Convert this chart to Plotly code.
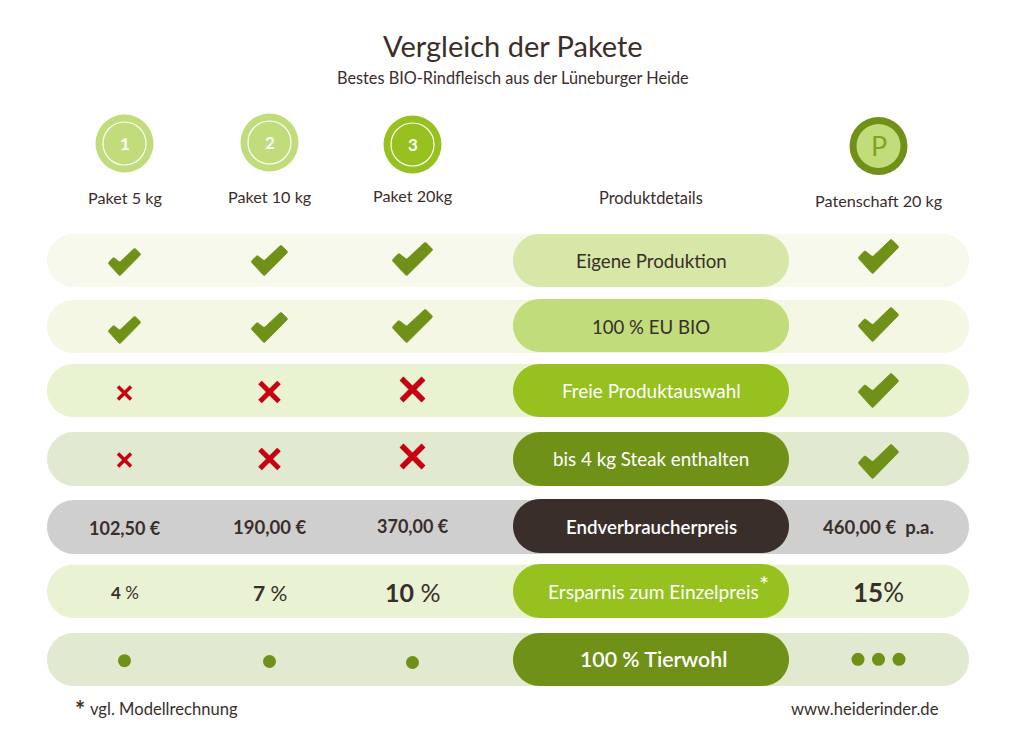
import math
import plotly.graph_objects as go

# --- data ---
packages = ["Paket 5 kg", "Paket 10 kg", "Paket 20kg", "Patenschaft 20 kg"]
badges = ["1", "2", "3", "P"]
row_labels = ["Eigene Produktion", "100 % EU BIO", "Freie Produktauswahl", "bis 4 kg Steak enthalten",
              "Endverbraucherpreis", "Ersparnis zum Einzelpreis", "100 % Tierwohl"]
eigene_produktion = [True, True, True, True]
eu_bio = [True, True, True, True]
freie_auswahl = [False, False, False, True]
steak = [False, False, False, True]
preise = ["102,50 €", "190,00 €", "370,00 €", "460,00 €  p.a."]
ersparnis = ["4", "7", "10", "15"]
tierwohl = [1, 1, 1, 3]

# --- layout of the sheet (pixels) ---
DARK = "#3a2e2b"
GREEN = "#6f9117"
RED = "#c8000f"
FONT = "Lato"
col_x = [124.5, 269.5, 412.5, 878.5]
badge_y = [143.5, 142.5, 144.5, 146]
label_y = [197.5, 196.5, 195.5, 200]
row_top = [234, 300, 364, 432, 500, 564.5, 633]
row_bot = [287, 353, 417, 486, 554, 618, 686]
pill_top = [234, 299, 364, 432, 499, 564, 633]
pill_bot = [287, 352, 417, 486, 553, 618, 686]
row_col = ["#f6f9ec", "#f3f7e3", "#e9f3d2", "#e1e9d1", "#d0cfcf", "#e9f3d3", "#e1e9d1"]
pill_col = ["#d6e7a7", "#c1dc7b", "#96c11f", GREEN, DARK, "#96c11f", GREEN]
pill_txt = [DARK, DARK, "white", "white", "white", "white", "white"]
pill_size = [18.7, 18.6, 18.9, 18.8, 18.7, 19.1, 21.3]
pill_weight = [400, 400, 400, 400, 600, 400, 600]
pill_label_x = [651.5, 651, 651.5, 650.5, 651, 653.5, 653.5]
pill_label_y = [261, 327, 390.5, 458.5, 527, 591.5, 659]
check_w = [33, 37, 41, 41]
check_h = [28, 31, 34, 35]
# check mark top per row / column
check_top = [[248, 245, 242, 239], [316, 312, 309, 307], [0, 0, 0, 373], [0, 0, 0, 444]]
cross_size = [13, 19, 22]
cross_line = [3.5, 5, 5.5]
cross_y = [[393, 392, 389.5], [460, 459, 456.5]]
pct_size = [17, 21, 25, 26]
price_y = [528, 527, 526, 527]
price_size = [18, 18.5, 18, 18.5]
dot_y = [660.7, 661.5, 662.5, 659.3]

CHECK = [(0, .54), (.165, .33), (.355, .51), (.81, 0), (1, .225), (.355, 1)]


def pill(x0, x1, y0, y1):
    r = (y1 - y0) / 2
    k = r * 0.45
    return (f"M{x0 + r},{y0} L{x1 - r},{y0} C{x1 - k},{y0} {x1},{y0 + k} {x1},{y0 + r} "
            f"C{x1},{y1 - k} {x1 - k},{y1} {x1 - r},{y1} L{x0 + r},{y1} "
            f"C{x0 + k},{y1} {x0},{y1 - k} {x0},{y0 + r} C{x0},{y0 + k} {x0 + k},{y0} {x0 + r},{y0} Z")


def check_path(cx, top, w, h, cut=1.6):
    # polygon with the corners softened by small curves
    pts = [(cx - w / 2 + px * w, top + py * h) for px, py in CHECK]
    d = []
    n = len(pts)
    for i, (a, b) in enumerate(pts):
        pa, pb = pts[i - 1]
        na, nb = pts[(i + 1) % n]
        lp = math.hypot(pa - a, pb - b)
        ln = math.hypot(na - a, nb - b)
        s = (a + (pa - a) * cut / lp, b + (pb - b) * cut / lp)
        e = (a + (na - a) * cut / ln, b + (nb - b) * cut / ln)
        d.append(f"{'M' if i == 0 else 'L'}{s[0]},{s[1]} Q{a},{b} {e[0]},{e[1]}")
    return " ".join(d) + " Z"


def circle(cx, cy, r, fill, line=None):
    return dict(type="circle", xref="x", yref="y", x0=cx - r, x1=cx + r, y0=cy - r, y1=cy + r,
                fillcolor=fill, layer="below",
                line=dict(color=line or fill, width=1.2 if line else 0))


def txt(x, y, s, size, color=DARK, xanchor="center", weight=400):
    return dict(x=x, y=y, text=s, showarrow=False, xanchor=xanchor, yanchor="middle",
                font=dict(family=FONT, size=size, color=color, weight=weight), xref="x", yref="y")


shapes = []
notes = []

for i in range(len(row_labels)):
    shapes.append(dict(type="path", path=pill(47, 969, row_top[i], row_bot[i]), fillcolor=row_col[i],
                       line_width=0, layer="below"))
for i in range(len(row_labels)):
    shapes.append(dict(type="path", path=pill(513, 789, pill_top[i], pill_bot[i]), fillcolor=pill_col[i],
                       line_width=0, layer="below"))
    notes.append(txt(pill_label_x[i], pill_label_y[i], row_labels[i], pill_size[i], pill_txt[i],
                     weight=pill_weight[i]))

# badges
for i, c in enumerate(["#c1dc7b", "#c1dc7b", "#96c11f"]):
    shapes.append(circle(col_x[i], badge_y[i], 29, c))
    shapes.append(circle(col_x[i], badge_y[i], 21.5, c, "white"))
    notes.append(txt(col_x[i], badge_y[i], f"<b>{badges[i]}</b>", 17, "white"))
shapes.append(circle(col_x[3], badge_y[3], 29, GREEN))
shapes.append(circle(col_x[3], badge_y[3], 22, "#c1dc7b"))
notes.append(txt(col_x[3], badge_y[3] - 0.5, badges[3], 27, "#7ea31d"))

for i, name in enumerate(packages):
    notes.append(txt(col_x[i], label_y[i], name, 16.2))
notes.append(txt(651, 197.5, "Produktdetails", 16.4))

notes.append(txt(513, 45.5, "Vergleich der Pakete", 29))
notes.append(txt(513, 77.5, "Bestes BIO-Rindfleisch aus der Lüneburger Heide", 16.3))

# check marks and crosses
cross_x, cross_yy, cross_s, cross_l = [], [], [], []
for r, values in enumerate([eigene_produktion, eu_bio, freie_auswahl, steak]):
    for c, ok in enumerate(values):
        if ok:
            shapes.append(dict(type="path", path=check_path(col_x[c], check_top[r][c], check_w[c], check_h[c]),
                               fillcolor=GREEN, line=dict(color=GREEN, width=0.8)))
        else:
            cross_x.append(col_x[c])
            cross_yy.append(cross_y[r - 2][c])
            cross_s.append(cross_size[c])
            cross_l.append(cross_line[c])

for c, p in enumerate(preise):
    notes.append(txt(col_x[c], price_y[c], f"<b>{p}</b>", price_size[c]))
for c, p in enumerate(ersparnis):
    gap = " " if c < 3 else ""
    notes.append(txt(col_x[c], 592, f"<b>{p}</b>{gap}%", pct_size[c]))

dot_x, dot_yy = [], []
for c, n in enumerate(tierwohl):
    for k in range(n):
        dot_x.append(col_x[c] + (k - (n - 1) / 2) * 20.5)
        dot_yy.append(dot_y[c])

notes.append(txt(764, 583, "*", 24, "white"))
notes.append(txt(80, 709, "<b>*</b>", 24))
notes.append(txt(88, 709, "vgl. Modellrechnung", 16.6, xanchor="left"))
notes.append(txt(941, 709, "www.heiderinder.de", 16.6, xanchor="right"))

fig = go.Figure()
fig.add_trace(go.Scatter(x=cross_x, y=cross_yy, mode="markers", hoverinfo="skip",
                         marker=dict(symbol="x-thin", size=cross_s, color=RED, opacity=1,
                                     line=dict(color=RED, width=cross_l))))
fig.add_trace(go.Scatter(x=dot_x, y=dot_yy, mode="markers", hoverinfo="skip",
                         marker=dict(symbol="circle", size=13, color=GREEN, line_width=0)))

fig.update_layout(
    width=1024, height=747, margin=dict(l=0, r=0, t=0, b=0), showlegend=False,
    paper_bgcolor="white", plot_bgcolor="white",
    xaxis=dict(range=[0, 1024], visible=False, fixedrange=True),
    yaxis=dict(range=[747, 0], visible=False, fixedrange=True),
    shapes=shapes, annotations=notes,
)
fig.write_html("out.html", config=dict(displayModeBar=False),
               post_script="document.body.style.margin='0';")
